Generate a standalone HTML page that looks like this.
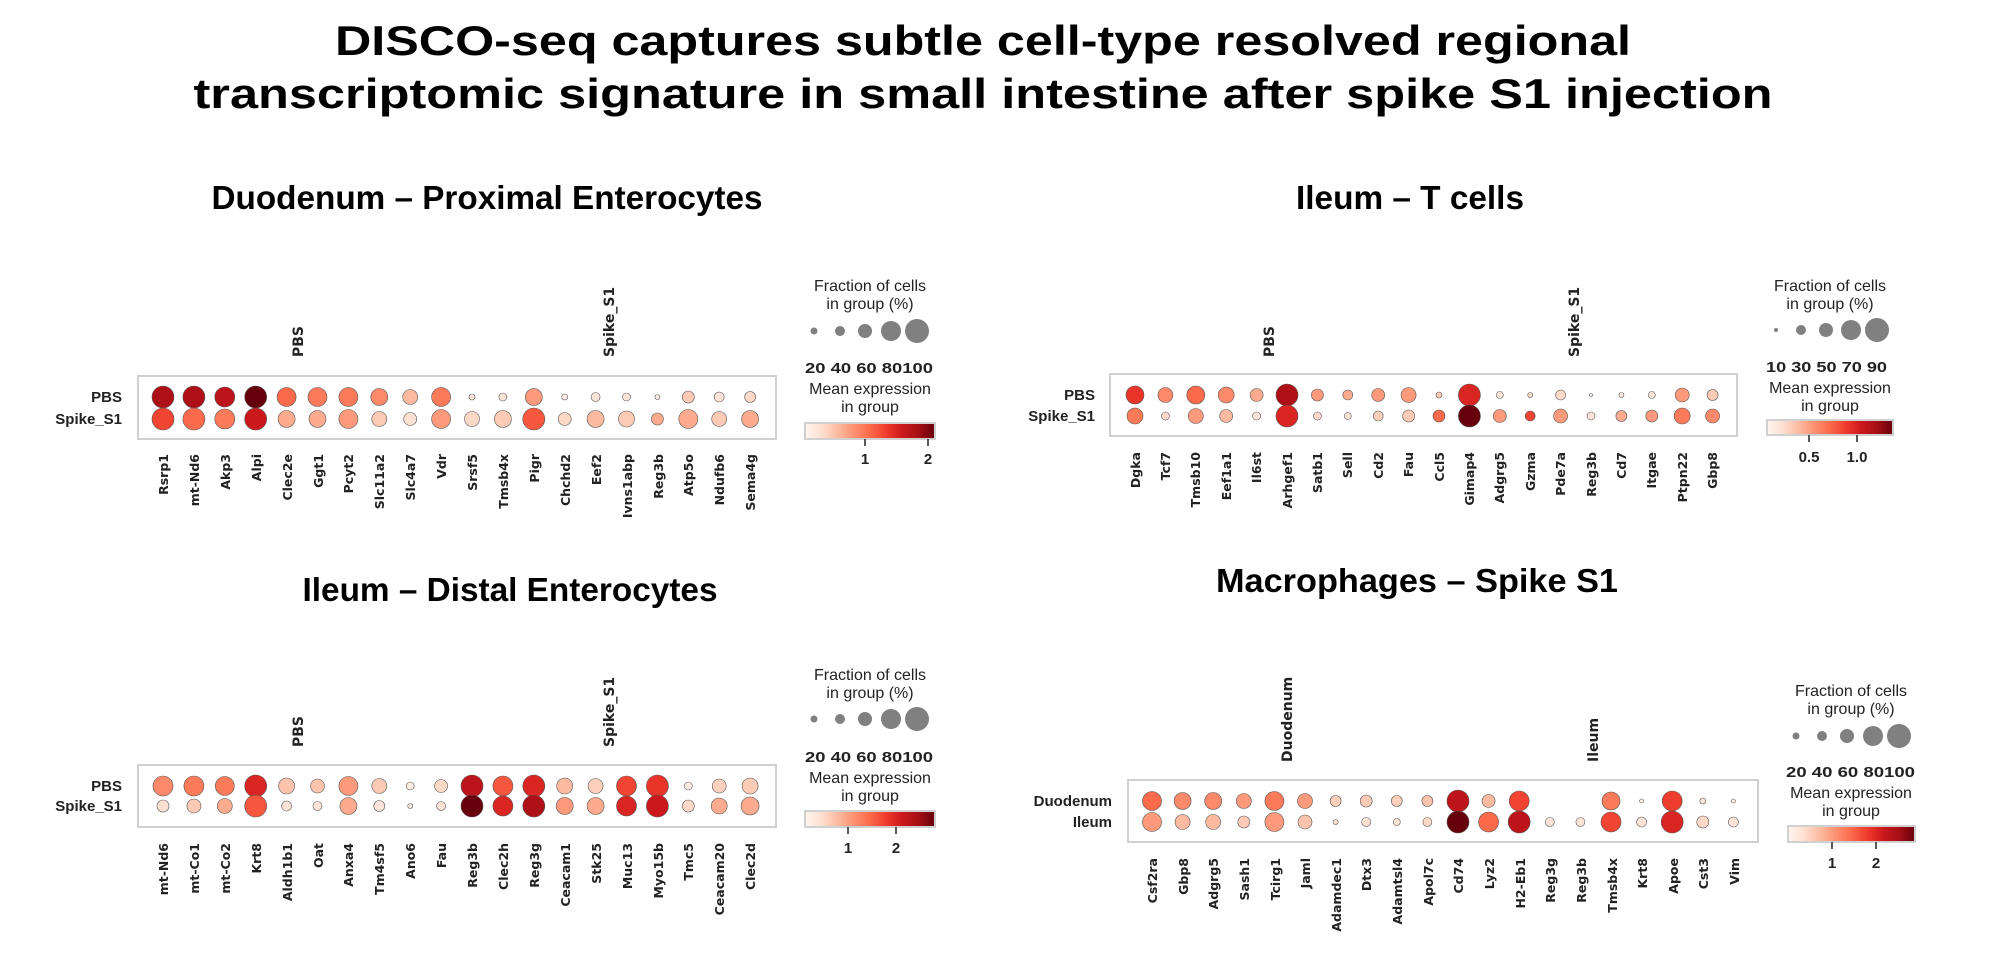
<!DOCTYPE html>
<html><head><meta charset="utf-8"><style>
html,body{margin:0;padding:0;background:#fff;}
svg{display:block;}
.mt{font-family:"Liberation Sans",sans-serif;font-weight:bold;font-size:42px;fill:#000;}
.pt{font-family:"Liberation Sans",sans-serif;font-weight:bold;font-size:33px;fill:#000;}
.gn{font-family:"DejaVu Sans",sans-serif;font-weight:bold;font-size:12.5px;fill:#222;}
.gl{font-family:"DejaVu Sans",sans-serif;font-weight:bold;font-size:14px;fill:#222;}
.rl{font-family:"Liberation Sans",sans-serif;font-weight:bold;font-size:15px;fill:#222;}
.lg{font-family:"Liberation Sans",sans-serif;font-size:16px;fill:#222;}
.ln{font-family:"Liberation Sans",sans-serif;font-weight:bold;font-size:15px;fill:#222;}
</style></head><body>
<svg id="s" width="2000" height="968" viewBox="0 0 2000 968" xmlns="http://www.w3.org/2000/svg">
<defs><linearGradient id="reds" x1="0" x2="1" y1="0" y2="0">
<stop offset="0" stop-color="#fff5f0"/><stop offset="0.125" stop-color="#fee0d2"/><stop offset="0.25" stop-color="#fcbba1"/><stop offset="0.375" stop-color="#fc9272"/><stop offset="0.5" stop-color="#fb6a4a"/><stop offset="0.625" stop-color="#ef3b2c"/><stop offset="0.75" stop-color="#cb181d"/><stop offset="0.875" stop-color="#a50f15"/><stop offset="1" stop-color="#67000d"/>
</linearGradient></defs>
<text class="mt" x="983" y="55" text-anchor="middle" textLength="1296" lengthAdjust="spacingAndGlyphs">DISCO-seq captures subtle cell-type resolved regional</text>
<text class="mt" x="983" y="108" text-anchor="middle" textLength="1579" lengthAdjust="spacingAndGlyphs">transcriptomic signature in small intestine after spike S1 injection</text>

<text class="pt" x="487" y="209" text-anchor="middle" textLength="551" lengthAdjust="spacingAndGlyphs">Duodenum – Proximal Enterocytes</text>
<text class="pt" x="1410" y="209" text-anchor="middle" textLength="228" lengthAdjust="spacingAndGlyphs">Ileum – T cells</text>
<text class="pt" x="510" y="601" text-anchor="middle" textLength="415" lengthAdjust="spacingAndGlyphs">Ileum – Distal Enterocytes</text>
<text class="pt" x="1417" y="592" text-anchor="middle" textLength="402" lengthAdjust="spacingAndGlyphs">Macrophages –  Spike S1</text>

<text class="gl" transform="translate(303,357) rotate(-90)">PBS</text>
<text class="gl" transform="translate(614,357) rotate(-90)">Spike_S1</text>
<text class="gl" transform="translate(1274,357) rotate(-90)">PBS</text>
<text class="gl" transform="translate(1579,357) rotate(-90)">Spike_S1</text>
<text class="gl" transform="translate(303,747) rotate(-90)">PBS</text>
<text class="gl" transform="translate(614,747) rotate(-90)">Spike_S1</text>
<text class="gl" transform="translate(1292,762) rotate(-90)">Duodenum</text>
<text class="gl" transform="translate(1598,762) rotate(-90)">Ileum</text>

<text class="rl" x="122" y="402" text-anchor="end">PBS</text>
<text class="rl" x="122" y="424" text-anchor="end">Spike_S1</text>
<text class="rl" x="1095" y="400" text-anchor="end">PBS</text>
<text class="rl" x="1095" y="421" text-anchor="end">Spike_S1</text>
<text class="rl" x="122" y="791" text-anchor="end">PBS</text>
<text class="rl" x="122" y="811" text-anchor="end">Spike_S1</text>
<text class="rl" x="1112" y="806" text-anchor="end">Duodenum</text>
<text class="rl" x="1112" y="827" text-anchor="end">Ileum</text>

<rect x="138" y="376" width="638" height="63" fill="none" stroke="#d0d0d0" stroke-width="2"/>
<rect x="1110" y="374" width="627" height="62" fill="none" stroke="#d0d0d0" stroke-width="2"/>
<rect x="138" y="765" width="638" height="62" fill="none" stroke="#d0d0d0" stroke-width="2"/>
<rect x="1128" y="780" width="630" height="62" fill="none" stroke="#d0d0d0" stroke-width="2"/>

<g id="dots"></g>

<g class="gn" text-anchor="end">
<text transform="translate(168,454) rotate(-90)">Rsrp1</text>
<text transform="translate(199,454) rotate(-90)">mt-Nd6</text>
<text transform="translate(230,454) rotate(-90)">Akp3</text>
<text transform="translate(261,454) rotate(-90)">Alpi</text>
<text transform="translate(292,454) rotate(-90)">Clec2e</text>
<text transform="translate(323,454) rotate(-90)">Ggt1</text>
<text transform="translate(353,454) rotate(-90)">Pcyt2</text>
<text transform="translate(384,454) rotate(-90)">Slc11a2</text>
<text transform="translate(415,454) rotate(-90)">Slc4a7</text>
<text transform="translate(446,454) rotate(-90)">Vdr</text>
<text transform="translate(477,454) rotate(-90)">Srsf5</text>
<text transform="translate(508,454) rotate(-90)">Tmsb4x</text>
<text transform="translate(539,454) rotate(-90)">Pigr</text>
<text transform="translate(570,454) rotate(-90)">Chchd2</text>
<text transform="translate(601,454) rotate(-90)">Eef2</text>
<text transform="translate(632,454) rotate(-90)">Ivns1abp</text>
<text transform="translate(663,454) rotate(-90)">Reg3b</text>
<text transform="translate(693,454) rotate(-90)">Atp5o</text>
<text transform="translate(724,454) rotate(-90)">Ndufb6</text>
<text transform="translate(755,454) rotate(-90)">Sema4g</text>

<text transform="translate(1140,452) rotate(-90)">Dgka</text>
<text transform="translate(1170,452) rotate(-90)">Tcf7</text>
<text transform="translate(1200,452) rotate(-90)">Tmsb10</text>
<text transform="translate(1231,452) rotate(-90)">Eef1a1</text>
<text transform="translate(1261,452) rotate(-90)">Il6st</text>
<text transform="translate(1292,452) rotate(-90)">Arhgef1</text>
<text transform="translate(1322,452) rotate(-90)">Satb1</text>
<text transform="translate(1352,452) rotate(-90)">Sell</text>
<text transform="translate(1383,452) rotate(-90)">Cd2</text>
<text transform="translate(1413,452) rotate(-90)">Fau</text>
<text transform="translate(1444,452) rotate(-90)">Ccl5</text>
<text transform="translate(1474,452) rotate(-90)">Gimap4</text>
<text transform="translate(1504,452) rotate(-90)">Adgrg5</text>
<text transform="translate(1535,452) rotate(-90)">Gzma</text>
<text transform="translate(1565,452) rotate(-90)">Pde7a</text>
<text transform="translate(1596,452) rotate(-90)">Reg3b</text>
<text transform="translate(1626,452) rotate(-90)">Cd7</text>
<text transform="translate(1656,452) rotate(-90)">Itgae</text>
<text transform="translate(1687,452) rotate(-90)">Ptpn22</text>
<text transform="translate(1717,452) rotate(-90)">Gbp8</text>

<text transform="translate(168,843) rotate(-90)">mt-Nd6</text>
<text transform="translate(199,843) rotate(-90)">mt-Co1</text>
<text transform="translate(230,843) rotate(-90)">mt-Co2</text>
<text transform="translate(261,843) rotate(-90)">Krt8</text>
<text transform="translate(292,843) rotate(-90)">Aldh1b1</text>
<text transform="translate(323,843) rotate(-90)">Oat</text>
<text transform="translate(353,843) rotate(-90)">Anxa4</text>
<text transform="translate(384,843) rotate(-90)">Tm4sf5</text>
<text transform="translate(415,843) rotate(-90)">Ano6</text>
<text transform="translate(446,843) rotate(-90)">Fau</text>
<text transform="translate(477,843) rotate(-90)">Reg3b</text>
<text transform="translate(508,843) rotate(-90)">Clec2h</text>
<text transform="translate(539,843) rotate(-90)">Reg3g</text>
<text transform="translate(570,843) rotate(-90)">Ceacam1</text>
<text transform="translate(601,843) rotate(-90)">Stk25</text>
<text transform="translate(632,843) rotate(-90)">Muc13</text>
<text transform="translate(663,843) rotate(-90)">Myo15b</text>
<text transform="translate(693,843) rotate(-90)">Tmc5</text>
<text transform="translate(724,843) rotate(-90)">Ceacam20</text>
<text transform="translate(755,843) rotate(-90)">Clec2d</text>

<text transform="translate(1157,858) rotate(-90)">Csf2ra</text>
<text transform="translate(1188,858) rotate(-90)">Gbp8</text>
<text transform="translate(1218,858) rotate(-90)">Adgrg5</text>
<text transform="translate(1249,858) rotate(-90)">Sash1</text>
<text transform="translate(1280,858) rotate(-90)">Tcirg1</text>
<text transform="translate(1310,858) rotate(-90)">Jaml</text>
<text transform="translate(1341,858) rotate(-90)">Adamdec1</text>
<text transform="translate(1371,858) rotate(-90)">Dtx3</text>
<text transform="translate(1402,858) rotate(-90)">Adamtsl4</text>
<text transform="translate(1433,858) rotate(-90)">Apol7c</text>
<text transform="translate(1463,858) rotate(-90)">Cd74</text>
<text transform="translate(1494,858) rotate(-90)">Lyz2</text>
<text transform="translate(1525,858) rotate(-90)">H2-Eb1</text>
<text transform="translate(1555,858) rotate(-90)">Reg3g</text>
<text transform="translate(1586,858) rotate(-90)">Reg3b</text>
<text transform="translate(1617,858) rotate(-90)">Tmsb4x</text>
<text transform="translate(1647,858) rotate(-90)">Krt8</text>
<text transform="translate(1678,858) rotate(-90)">Apoe</text>
<text transform="translate(1708,858) rotate(-90)">Cst3</text>
<text transform="translate(1739,858) rotate(-90)">Vim</text>
</g>

<g id="leg"></g>
</svg>
<script>
var NS="http://www.w3.org/2000/svg";
var stops=[[255,245,240],[254,224,210],[252,187,161],[252,146,114],[251,106,74],[239,59,44],[203,24,29],[165,15,21],[103,0,13]];
function col(v){v=Math.max(0,Math.min(1,v))*8;var i=Math.min(7,Math.floor(v)),f=v-i,a=stops[i],b=stops[i+1];
return "rgb("+[0,1,2].map(function(k){return Math.round(a[k]+(b[k]-a[k])*f)}).join(",")+")";}
var g=document.getElementById("dots");
function circ(parent,x,y,r,fill,stroke,sw){var c=document.createElementNS(NS,"circle");c.setAttribute("cx",x);c.setAttribute("cy",y);c.setAttribute("r",r);c.setAttribute("fill",fill);if(stroke){c.setAttribute("stroke",stroke);c.setAttribute("stroke-width",sw);}parent.appendChild(c);}
function panel(x0,dx,y1,y2,data){data.forEach(function(d,i){var x=x0+dx*i;
if(d[0]>1)circ(g,x,y1,d[0]/2,col(d[1]),"#555",0.6);
if(d[2]>1)circ(g,x,y2,d[2]/2,col(d[3]),"#555",0.6);});}
panel(163,30.9,397,419,[[22,.85,22,.6],[22,.85,22,.5],[20,.8,20,.45],[22,1,22,.75],[19,.5,17,.3],[19,.45,17,.3],[19,.45,19,.35],[17,.4,15,.2],[15,.25,13,.12],[19,.45,19,.35],[6,.05,15,.15],[8,.1,17,.2],[17,.35,22,.55],[6,.05,13,.15],[9,.1,17,.25],[8,.1,16,.2],[5,.05,12,.3],[12,.2,19,.3],[10,.1,15,.2],[11,.15,17,.3]]);
panel(1135,30.4,395,416,[[18,.65,16,.45],[15,.4,8,.15],[18,.5,15,.35],[16,.4,13,.25],[13,.3,8,.1],[22,.85,22,.7],[12,.35,8,.15],[10,.3,7,.1],[13,.35,10,.18],[15,.35,12,.2],[6,.2,12,.5],[22,.7,22,1],[7,.1,13,.35],[5,.15,10,.6],[10,.15,14,.35],[3,.05,8,.1],[5,.05,11,.3],[7,.1,12,.35],[14,.35,16,.45],[11,.2,14,.4]]);
panel(163,30.9,786,806,[[20,.4,12,.12],[20,.45,14,.2],[19,.45,15,.3],[22,.7,22,.55],[16,.22,10,.1],[14,.22,9,.1],[19,.35,17,.3],[15,.2,11,.1],[8,.05,5,.05],[13,.15,9,.1],[22,.8,22,1],[20,.55,20,.7],[22,.7,22,.85],[16,.25,17,.35],[15,.18,17,.3],[20,.6,20,.7],[22,.65,22,.75],[8,.05,12,.15],[14,.18,16,.3],[16,.2,18,.3]]);
panel(1152,30.6,801,822,[[19,.5,19,.35],[17,.4,15,.25],[17,.4,15,.25],[15,.35,12,.2],[19,.45,19,.35],[15,.35,14,.22],[11,.18,5,.1],[12,.2,9,.12],[11,.18,7,.1],[11,.22,9,.15],[22,.8,22,1],[13,.25,20,.5],[20,.6,22,.8],[1,0,9,.1],[1,0,9,.1],[18,.45,20,.6],[4,.05,10,.1],[20,.62,22,.7],[6,.1,12,.15],[4,.05,10,.1]]);
var L=document.getElementById("leg");
function txt(x,y,cls,s,anchor,len){var t=document.createElementNS(NS,"text");t.setAttribute("x",x);t.setAttribute("y",y);t.setAttribute("class",cls);t.setAttribute("text-anchor",anchor||"middle");if(len){t.setAttribute("textLength",len);t.setAttribute("lengthAdjust","spacingAndGlyphs");}t.textContent=s;L.appendChild(t);}
function legend(cx,yt,cys,cxs,ds,nums,nx0,nx1,ny,my,cb,ticks,ty){
txt(cx,yt,"lg","Fraction of cells");txt(cx,yt+18,"lg","in group (%)");
cxs.forEach(function(x,i){circ(L,x,cys,ds[i]/2,"#808080");});
txt((nx0+nx1)/2,ny,"ln",nums,"middle",nx1-nx0);
txt(cx,my,"lg","Mean expression");txt(cx,my+18,"lg","in group");
var r=document.createElementNS(NS,"rect");r.setAttribute("x",cb[0]);r.setAttribute("y",cb[1]);r.setAttribute("width",cb[2]-cb[0]);r.setAttribute("height",cb[3]-cb[1]);r.setAttribute("fill","url(#reds)");r.setAttribute("stroke","#d0d0d0");r.setAttribute("stroke-width","2");L.appendChild(r);
ticks.forEach(function(tk){var l=document.createElementNS(NS,"line");l.setAttribute("x1",tk[0]);l.setAttribute("x2",tk[0]);l.setAttribute("y1",cb[3]);l.setAttribute("y2",cb[3]+7);l.setAttribute("stroke","#222");l.setAttribute("stroke-width","1.5");L.appendChild(l);txt(tk[0],ty,"ln",tk[1]);});}
legend(870,291,331,[814,840,865,891,917],[7,10,14,20,24],"20 40 60 80100",805,933,373,394,[805,423,935,439],[[865,"1"],[928,"2"]],464);
legend(1830,291,330,[1776,1801,1826,1851,1877],[4,10,14,20,24],"10 30 50 70 90",1766,1887,372,393,[1767,420,1893,435],[[1809,"0.5"],[1857,"1.0"]],462);
legend(870,680,719,[814,840,865,891,917],[7,10,14,20,24],"20 40 60 80100",805,933,762,783,[805,811,935,827],[[848,"1"],[896,"2"]],853);
legend(1851,696,736,[1796,1822,1847,1873,1899],[7,10,14,20,24],"20 40 60 80100",1786,1915,777,798,[1788,826,1915,842],[[1832,"1"],[1876,"2"]],868);
</script>
</body></html>
